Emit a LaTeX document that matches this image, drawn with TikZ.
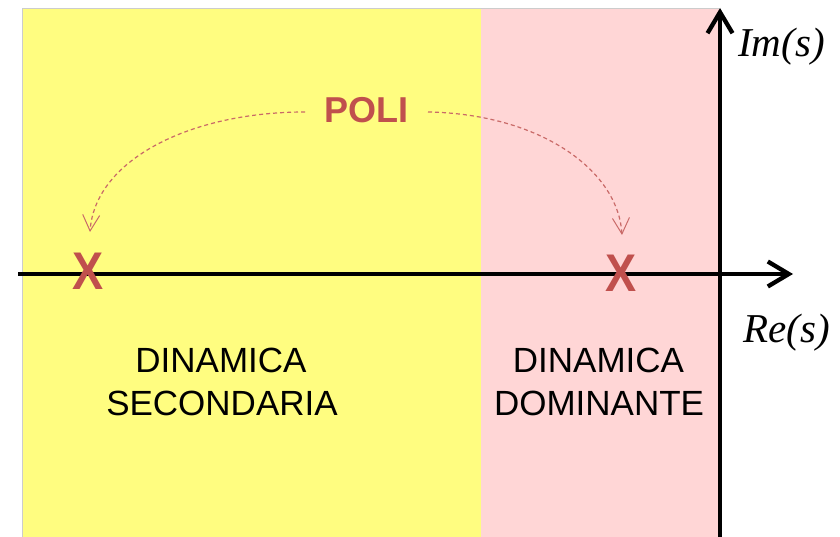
\documentclass[tikz,border=0pt]{standalone}
\usepackage{fontspec}
\setmainfont{Liberation Sans}
\newfontfamily\serifit{Liberation Serif}
\usetikzlibrary{arrows.meta}
\definecolor{yel}{RGB}{255,253,128}
\definecolor{pnk}{RGB}{255,214,214}
\definecolor{polired}{RGB}{192,80,77}
\tikzset{
  region/.style={draw=black!20, line width=0.8pt},
  axis/.style={line width=4.3pt, -{Straight Barb[length=21pt,width=25pt,line width=4.3pt]}},
  pole/.style={text=polired, font=\fontsize{53}{53}\selectfont\bfseries, inner sep=0pt, xscale=0.88},
  polilbl/.style={text=polired, font=\fontsize{36}{36}\selectfont\bfseries, inner sep=0pt, anchor=base},
  dyn/.style={font=\fontsize{35}{40}\selectfont, inner sep=0pt, anchor=base},
  axlbl/.style={font=\fontsize{41}{41}\selectfont\serifit\itshape, inner sep=0pt, anchor=base west},
  pointer/.style={draw=polired!85, line width=1.2pt, dash pattern=on 4pt off 3pt, -{Straight Barb[length=16pt,width=17pt,line width=1pt]}}
}
\begin{document}
\begin{tikzpicture}[x=1pt,y=-1pt]
\useasboundingbox (0,0) rectangle (840,537);
\fill[yel] (22,8) rectangle (481,537);
\fill[pnk] (481,8) rectangle (719,537);
\draw[black!20, line width=0.8pt] (22,537) -- (22,8) -- (481,8);
\draw[black!20, line width=0.8pt] (481,8.5) -- (719,8.5);
% axes
\coordinate (xs) at (18,274);
\coordinate (xe) at (793,274);
\coordinate (ys) at (720,537);
\coordinate (ye) at (720,8);
\draw[axis] (ys) -- (ye);
\draw[axis] (xs) -- (xe);
% labels
\node[axlbl] (im) at (738,57) {Im(s)};
\node[axlbl] (re) at (743,342) {Re(s)};
% poles
\node[pole] (p1) at (88.5,271.5) {X};
\node[pole] (p2) at (621,273.5) {X};
% POLI
\node[polilbl] (poli) at (366,123) {POLI};
\coordinate (la) at (305,112);
\coordinate (ra) at (428,112);
\coordinate (lt) at (90,232);
\coordinate (rt) at (622,235);
\draw[pointer] (la) .. controls (190,112) and (95,160) .. (lt);
\draw[pointer] (ra) .. controls (540,114) and (618,170) .. (rt);
% texts
\node[dyn] (d1a) at (221,372) {DINAMICA};
\node[dyn] (d1b) at (222,415) {SECONDARIA};
\node[dyn] (d2a) at (598.5,372) {DINAMICA};
\node[dyn] (d2b) at (599,415) {DOMINANTE};
\end{tikzpicture}
\end{document}
